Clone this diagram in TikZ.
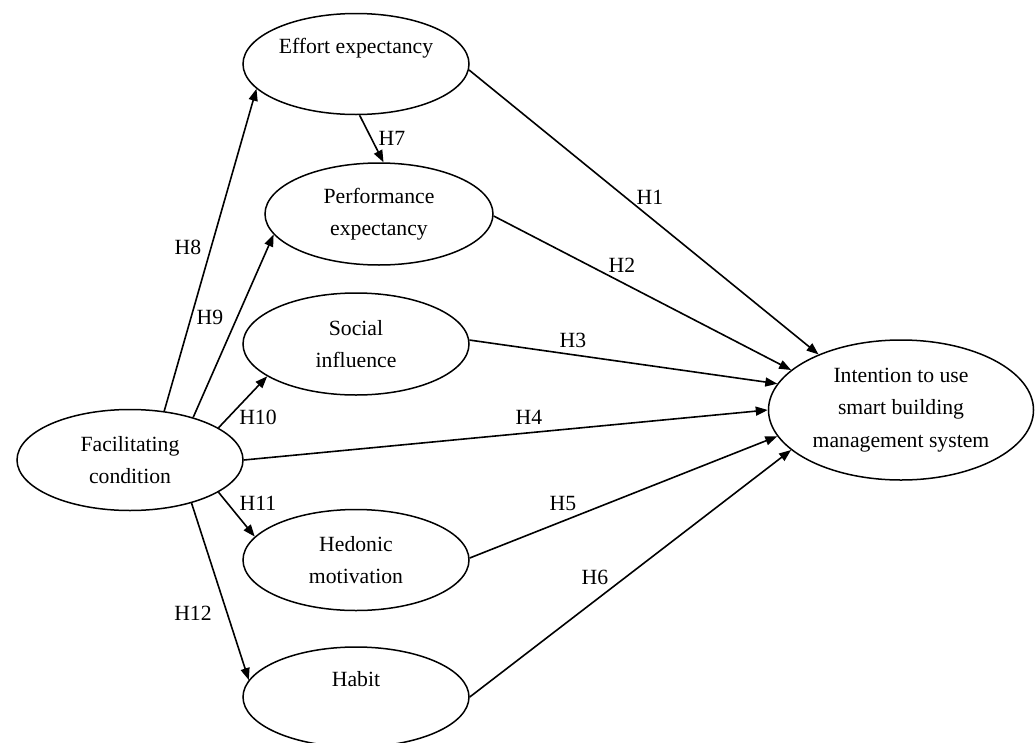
\documentclass[tikz,border=0pt]{standalone}
\usepackage{fontspec}
\setmainfont{Liberation Serif}
\usetikzlibrary{shapes.geometric,arrows.meta}
\newcommand{\uptext}[1]{\raisebox{11pt}[0pt][0pt]{#1}}
\begin{document}
\begin{tikzpicture}[x=1pt,y=-1pt,
  every node/.style={font=\fontsize{21.7}{32.5}\selectfont},
  construct/.style={draw, ellipse, line width=1.5pt, inner sep=0pt, align=center},
  link/.style={line width=1.6pt, -{Triangle[length=12pt,width=9pt]}},
  hyp/.style={inner sep=0pt}]
\useasboundingbox (0,0) rectangle (1036,742);
\node[construct, minimum width=226pt, minimum height=101pt] (ee) at (356,64) {\uptext{Effort expectancy}};
\node[construct, minimum width=228pt, minimum height=102pt] (pe) at (379,214) {Performance\\expectancy};
\node[construct, minimum width=226pt, minimum height=102pt] (si) at (356,344) {Social\\influence};
\node[construct, minimum width=226pt, minimum height=101pt] (fc) at (130,460) {Facilitating\\condition};
\node[construct, minimum width=265pt, minimum height=140pt] (in) at (901,410) {Intention to use\\smart building\\management system};
\node[construct, minimum width=226pt, minimum height=101pt] (hm) at (356,560) {Hedonic\\motivation};
\node[construct, minimum width=226pt, minimum height=100pt] (hb) at (356,697) {\uptext{Habit}};

\draw[link] (ee.-3) -- (in.146);
\draw[link] (pe.-1) -- (in.160);
\draw[link] (si.2) -- (in.168);
\draw[link] (fc.0) -- (in.180);
\draw[link] (hm.1) -- (in.192);
\draw[link] (hb.0) -- (in.200);
\draw[link] (ee.274.5) -- (pe.85.5);
\draw[link] (fc.55) -- (ee.194);
\draw[link] (fc.34) -- (pe.191);
\draw[link] (fc.20) -- (si.200);
\draw[link] (fc.340) -- (hm.167);
\draw[link] (fc.325) -- (hb.171);

\node[hyp] (h1) at (650,197) {H1};
\node[hyp] (h2) at (622,265) {H2};
\node[hyp] (h3) at (573,340) {H3};
\node[hyp] (h4) at (529,417) {H4};
\node[hyp] (h5) at (563,503) {H5};
\node[hyp] (h6) at (595,577) {H6};
\node[hyp] (h7) at (392,138) {H7};
\node[hyp] (h8) at (188,247) {H8};
\node[hyp] (h9) at (210,317) {H9};
\node[hyp] (h10) at (258,417) {H10};
\node[hyp] (h11) at (258,503) {H11};
\node[hyp] (h12) at (193,613) {H12};
\end{tikzpicture}
\end{document}
